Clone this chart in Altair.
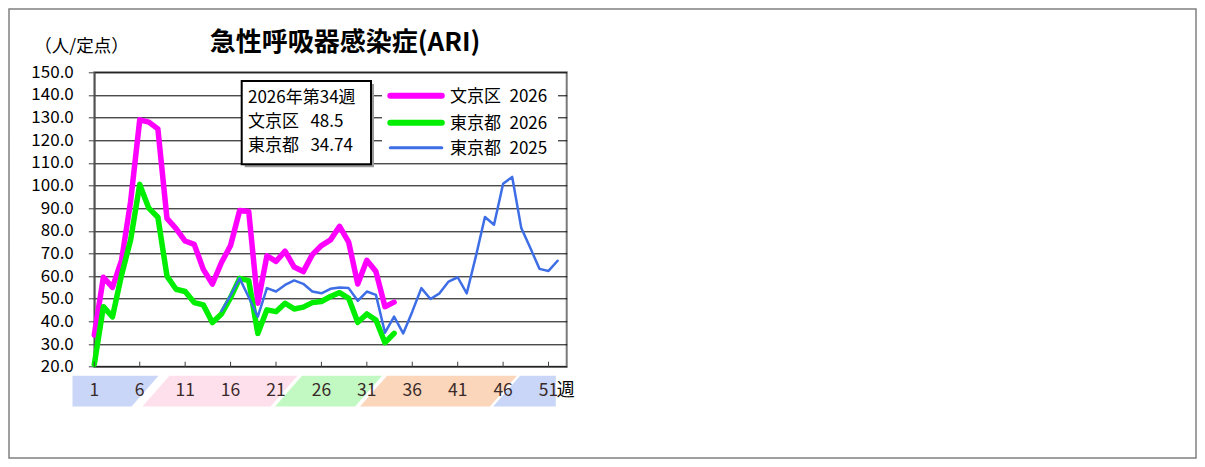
import altair as alt
import pandas as pd

# ---------------- data ----------------
weeks_2026 = list(range(1, 35))
bunkyo_2026 = [34, 59.5, 55, 67, 93, 129, 128, 125, 85.5, 81, 75.5, 74, 63, 56.5, 66, 73.5,
               89, 88.5, 48, 69, 66.5, 71, 64, 62, 69.5, 73.5, 76, 82, 75, 56.5, 67, 62, 46.5, 48.5]
tokyo_2026 = [21, 46.5, 42, 60.5, 76, 100.5, 90, 86, 60, 54.2, 53.2, 48.3, 47.3, 39.5, 43.3, 50.5,
              59, 58, 34.7, 45.1, 44.3, 48, 45.5, 46.3, 48.3, 48.8, 51, 52.7, 50.2, 39.6, 43.3, 40.6, 30.6, 34.74]
weeks_2025 = list(range(15, 53))
tokyo_2025 = [44.5, 51.5, 59, 50.7, 42.1, 54.7, 53.2, 56.1, 58.1, 56.6, 53.2, 52.4, 54.4, 55, 54.7,
              49.1, 53.2, 51.7, 35, 42.1, 34.7, 44.3, 54.7, 49.9, 52.4, 57.6, 59.5, 52.4, 68.7, 86.1,
              82.7, 100.8, 103.8, 81.2, 72.4, 63.2, 62.3, 66.8]

series_names = ["文京区\u20022026", "東京都\u20022026", "東京都\u20022025"]
series_colors = ["#ff00ff", "#00ee00", "#3d6ee6"]
series_widths = [5.5, 5.5, 2.5]

tick_weeks = [1, 6, 11, 16, 21, 26, 31, 36, 41, 46, 51]
tick_labels = [str(w) for w in tick_weeks]

band_colors = ["#c9d6f8", "#fde0ec", "#c2f8c2", "#fbd6bb", "#c9d6f8"]
band_left = [-1.4, 6.3, 20.9, 30.25, 44.9]
band_right = [5.1, 20.4, 29.7, 44.55, 51.8]
band_left_slant = [False, True, True, True, True]
band_right_slant = [True, True, True, True, False]

current_week = 34
y_ticks = list(range(20, 151, 10))

FONT = "Noto Sans CJK JP"

# ---------------- geometry ----------------
W = 472.4
H = 294.4
PAD = {"left": 86.3, "top": 64.3, "right": 630.3, "bottom": 92.3}
px_per_week = W / 52
px_per_unit = H / 130

xscale = alt.Scale(domain=[1, 53], nice=False, zero=False)
yscale = alt.Scale(domain=[20, 150], nice=False, zero=False)
y_axis = alt.Axis(values=y_ticks, format=".1f", grid=True, gridColor="#000000", gridWidth=1,
                  tickSize=6, tickColor="#404040", domainColor="#505050", domainWidth=1.5,
                  labelFontSize=17, labelColor="#000000", labelFont=FONT, labelPadding=15,
                  title=None)

one = pd.DataFrame({"a": [0]})

# ---------------- bands under x labels ----------------
BAND_HI = 150 - 303.4 / px_per_unit
BAND_LO = 150 - 334.2 / px_per_unit
slant = 27 / px_per_week
rows = []
for i, (a, b, ls, rs) in enumerate(zip(band_left, band_right, band_left_slant, band_right_slant)):
    pts = []
    if ls:
        pts += [(a, BAND_LO, BAND_LO), (a + slant, BAND_LO, BAND_HI)]
    else:
        pts += [(a, BAND_LO, BAND_HI)]
    if rs:
        pts += [(b, BAND_LO, BAND_HI), (b + slant, BAND_HI, BAND_HI)]
    else:
        pts += [(b, BAND_LO, BAND_HI)]
    for (x, lo, hi) in pts:
        rows.append({"band": f"b{i}", "x": x, "lo": lo, "hi": hi})
band_df = pd.DataFrame(rows)

bands = alt.Chart(band_df).mark_area(interpolate="linear", clip=False, opacity=1).encode(
    x=alt.X("x:Q", scale=xscale, axis=None),
    y=alt.Y("lo:Q", scale=yscale, axis=y_axis, stack=None),
    y2="hi:Q",
    color=alt.Color("band:N", scale=alt.Scale(domain=[f"b{i}" for i in range(len(band_colors))],
                                              range=band_colors), legend=None),
)

# ---------------- lines ----------------
def line_layer(weeks, vals, color, width):
    df = pd.DataFrame({"week": weeks, "v": vals})
    return alt.Chart(df).mark_line(color=color, strokeWidth=width, strokeJoin="round",
                                   strokeCap="round", clip=False).encode(
        x=alt.X("week:Q", scale=xscale, axis=None),
        y=alt.Y("v:Q", scale=yscale, axis=y_axis),
    )

pink = line_layer(weeks_2026, bunkyo_2026, series_colors[0], series_widths[0])
green = line_layer(weeks_2026, tokyo_2026, series_colors[1], series_widths[1])
blue = line_layer(weeks_2025, tokyo_2025, series_colors[2], series_widths[2])

# ---------------- x ticks (inside) & labels ----------------
tick_df = pd.DataFrame({"week": tick_weeks, "label": tick_labels})
xticks = alt.Chart(tick_df).mark_rule(color="#404040", strokeWidth=1).encode(
    x=alt.X("week:Q", scale=xscale, axis=None),
    y=alt.value(H - 5), y2=alt.value(H),
)
xlabels = alt.Chart(tick_df).mark_text(fontSize=17.5, font=FONT, color="#3a2a2a",
                                       baseline="middle", align="center").encode(
    x=alt.X("week:Q", scale=xscale, axis=None),
    y=alt.value(318.7),
    text="label:N",
)
week_unit = alt.Chart(one).mark_text(text="週", fontSize=18, font=FONT, color="#000000",
                                     baseline="middle", align="left").encode(
    x=alt.value(462.5), y=alt.value(318.7))

# ---------------- titles ----------------
title = alt.Chart(one).mark_text(text="急性呼吸器感染症(ARI)", fontSize=26, fontWeight="bold",
                                 font=FONT, color="#000000", baseline="middle", align="center").encode(
    x=alt.value(250.7), y=alt.value(-29))
unit = alt.Chart(one).mark_text(text="（人/定点）", fontSize=17.5, font=FONT, color="#000000",
                                baseline="middle", align="left").encode(
    x=alt.value(-60), y=alt.value(-25.6))

# ---------------- info box ----------------
box_shadow = alt.Chart(one).mark_rect(fill="#9a9a9a").encode(
    x=alt.value(150.4), x2=alt.value(279.7), y=alt.value(11.7), y2=alt.value(95))
box = alt.Chart(one).mark_rect(fill="#ffffff", stroke="#000000", strokeWidth=2).encode(
    x=alt.value(147.4), x2=alt.value(276.7), y=alt.value(8.7), y2=alt.value(92))
info_lines = [f"2026年第{current_week}週",
              f"文京区\u00a0\u00a0\u00a0{bunkyo_2026[-1]}",
              f"東京都\u00a0\u00a0\u00a0{tokyo_2026[-1]}"]
info_y = [26, 49.6, 73.4]
info_texts = [alt.Chart(one).mark_text(text=t, fontSize=17, font=FONT, color="#000000",
                                       baseline="middle", align="left").encode(
    x=alt.value(153.7), y=alt.value(yy)) for t, yy in zip(info_lines, info_y)]

# ---------------- legend ----------------
leg_bg = alt.Chart(one).mark_rect(fill="#ffffff").encode(
    x=alt.value(287.7), x2=alt.value(463.7), y=alt.value(7.7), y2=alt.value(87.7))
leg_y = [23.4, 50.4, 75.4]
leg_layers = []
for name, col, wd, yy in zip(series_names, series_colors, series_widths, leg_y):
    leg_layers.append(alt.Chart(one).mark_rule(color=col, strokeWidth=wd + 0.5, strokeCap="round").encode(
        x=alt.value(296), x2=alt.value(347.5), y=alt.value(yy)))
    leg_layers.append(alt.Chart(one).mark_text(text=name, fontSize=17, font=FONT, color="#000000",
                                               baseline="middle", align="left").encode(
        x=alt.value(355.7), y=alt.value(yy + 1)))

# ---------------- outer frame ----------------
frame = alt.Chart(one).mark_rect(filled=False, stroke="#808080", strokeWidth=1.5).encode(
    x=alt.value(-PAD["left"] + 1), x2=alt.value(W + PAD["right"] - 1),
    y=alt.value(-PAD["top"] + 1), y2=alt.value(H + PAD["bottom"] - 1))

chart = alt.layer(
    bands, pink, green, blue, xticks, xlabels, week_unit, title, unit,
    box_shadow, box, *info_texts, leg_bg, *leg_layers, frame
).properties(
    width=W, height=H,
    padding=PAD,
    autosize=alt.AutoSizeParams(type="none"),
).configure(font=FONT).configure_view(
    stroke="#7a7a7a", strokeWidth=2
)

chart.save("out.html", embed_options={"renderer": "svg", "actions": False})
